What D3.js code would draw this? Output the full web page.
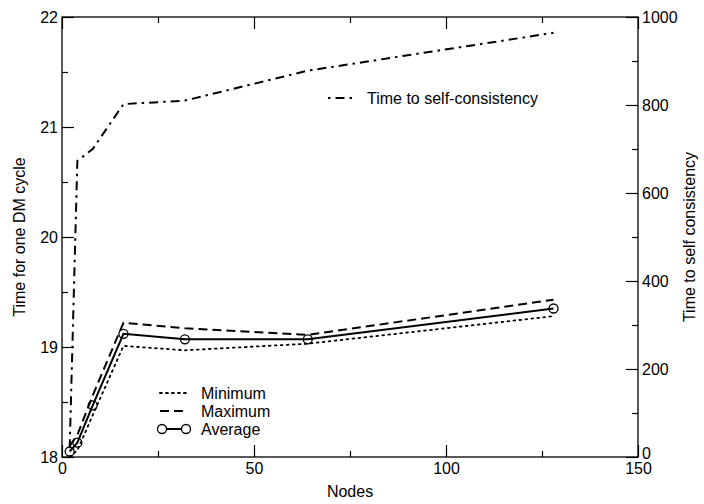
<!DOCTYPE html>
<html><head><meta charset="utf-8">
<script src="https://cdn.jsdelivr.net/npm/d3@7"></script>
<style>body{margin:0;background:#fff}svg{display:block}text{font-family:"Liberation Sans",Arial,sans-serif;fill:#000}</style>
</head><body>
<svg id="c" width="704" height="504"></svg>
<script>
const nodes = [2, 4, 8, 16, 32, 64, 128];
const minimum = [18.0, 18.06, 18.38, 19.01, 18.97, 19.03, 19.28];
const maximum = [18.1, 18.2, 18.56, 19.22, 19.17, 19.11, 19.43];
const average = [18.05, 18.13, 18.47, 19.12, 19.07, 19.07, 19.35];
const selfConsistency = [20, 673, 700, 802, 810, 878, 964];
const xTicks = [0, 50, 100, 150];
const leftTicks = [18, 19, 20, 21, 22];
const rightTicks = [0, 200, 400, 600, 800, 1000];

(function () {
const L = 62, R = 638, T = 17, B = 457;
const svg = d3.select("#c");
const x = d3.scaleLinear().domain([0, 150]).range([L, R]);
const yL = d3.scaleLinear().domain([18, 22]).range([B, T]);
const yR = d3.scaleLinear().domain([0, 1000]).range([B, T]);

const tickStyle = g => { g.select(".domain").remove(); g.selectAll("line").attr("stroke", "#000").attr("stroke-width", 1.2); g.selectAll("text").attr("font-size", 16); };

const botAx = svg.append("g").attr("transform", `translate(0,${B})`);
botAx.call(d3.axisBottom(x).tickValues(d3.range(25, 150, 50)).tickSize(-6).tickFormat("")).call(tickStyle);
botAx.append("g").call(d3.axisBottom(x).tickValues(xTicks).tickSize(-12).tickFormat(d3.format("d"))).call(tickStyle);
botAx.selectAll("text").attr("dy", "0.35em").attr("y", 11);
const topAx = svg.append("g").attr("transform", `translate(0,${T})`);
topAx.call(d3.axisTop(x).tickValues(d3.range(25, 150, 50)).tickSize(-6).tickFormat("")).call(tickStyle);
topAx.append("g").call(d3.axisTop(x).tickValues(xTicks).tickSize(-12).tickFormat("")).call(tickStyle);
const leftAx = svg.append("g").attr("transform", `translate(${L},0)`);
leftAx.call(d3.axisLeft(yL).tickValues(d3.range(18.5, 22, 1)).tickSize(-6).tickFormat("")).call(tickStyle);
leftAx.append("g").call(d3.axisLeft(yL).tickValues(leftTicks).tickSize(-12).tickFormat(d3.format("d"))).call(tickStyle);
leftAx.selectAll("text").attr("x", -4);
const rightAx = svg.append("g").attr("transform", `translate(${R},0)`);
rightAx.call(d3.axisRight(yR).tickValues(d3.range(100, 1000, 200)).tickSize(-6).tickFormat("")).call(tickStyle);
rightAx.append("g").call(d3.axisRight(yR).tickValues(rightTicks).tickSize(-12).tickFormat(d3.format("d"))).call(tickStyle);
rightAx.selectAll("text").attr("x", 4).filter(d => d === 0).attr("dy", "0.1em");

svg.append("rect").attr("x", L).attr("y", T).attr("width", R - L).attr("height", B - T)
  .attr("fill", "none").attr("stroke", "#000").attr("stroke-width", 1.3);

const lineL = d3.line().x((d, i) => x(nodes[i])).y(d => yL(d));
const lineR = d3.line().x((d, i) => x(nodes[i])).y(d => yR(d));
svg.append("path").attr("d", lineL(minimum)).attr("fill", "none").attr("stroke", "#000").attr("stroke-width", 1.8).attr("stroke-dasharray", "1.8,4.2").attr("stroke-linecap", "round");
svg.append("path").attr("d", lineL(maximum)).attr("fill", "none").attr("stroke", "#000").attr("stroke-width", 2).attr("stroke-dasharray", "9,5");
svg.append("path").attr("d", lineL(average)).attr("fill", "none").attr("stroke", "#000").attr("stroke-width", 2);
svg.selectAll(".avgpt").data(average).join("circle").attr("class", "avgpt")
  .attr("cx", (d, i) => x(nodes[i])).attr("cy", d => yL(d)).attr("r", 4.5)
  .attr("fill", "none").attr("stroke", "#000").attr("stroke-width", 1.3);
svg.append("path").attr("d", lineR(selfConsistency)).attr("fill", "none").attr("stroke", "#000").attr("stroke-width", 2).attr("stroke-dasharray", "9,5,2.5,5");

svg.append("text").attr("x", (L + R) / 2).attr("y", 497).attr("text-anchor", "middle").attr("font-size", 16).text("Nodes");
svg.append("text").attr("transform", `translate(25,${(T + B) / 2}) rotate(-90)`).attr("text-anchor", "middle").attr("font-size", 16).text("Time for one DM cycle");
svg.append("text").attr("transform", `translate(695,${(T + B) / 2}) rotate(-90)`).attr("text-anchor", "middle").attr("font-size", 16).text("Time to self consistency");

const leg = [
  {label: "Minimum", dash: "1.8,4.2", y: 393},
  {label: "Maximum", dash: "9,5", y: 411},
  {label: "Average", dash: null, y: 429}
];
leg.forEach(d => {
  svg.append("line").attr("x1", 160).attr("x2", 188).attr("y1", d.y).attr("y2", d.y)
    .attr("stroke", "#000").attr("stroke-width", 2).attr("stroke-dasharray", d.dash).attr("stroke-linecap", d.label === "Minimum" ? "round" : "butt");
  svg.append("text").attr("x", 201).attr("y", d.y).attr("dy", "0.35em").attr("font-size", 16).text(d.label);
});
[162, 186].forEach(cx => svg.append("circle").attr("cx", cx).attr("cy", 429).attr("r", 4.5).attr("fill", "#fff").attr("stroke", "#000").attr("stroke-width", 1.3));
svg.append("line").attr("x1", 328).attr("x2", 356).attr("y1", 98).attr("y2", 98).attr("stroke", "#000").attr("stroke-width", 2).attr("stroke-dasharray", "2.5,5,9,5");
svg.append("text").attr("x", 367).attr("y", 98).attr("dy", "0.35em").attr("font-size", 16).text("Time to self-consistency");
})();
</script>
</body></html>
